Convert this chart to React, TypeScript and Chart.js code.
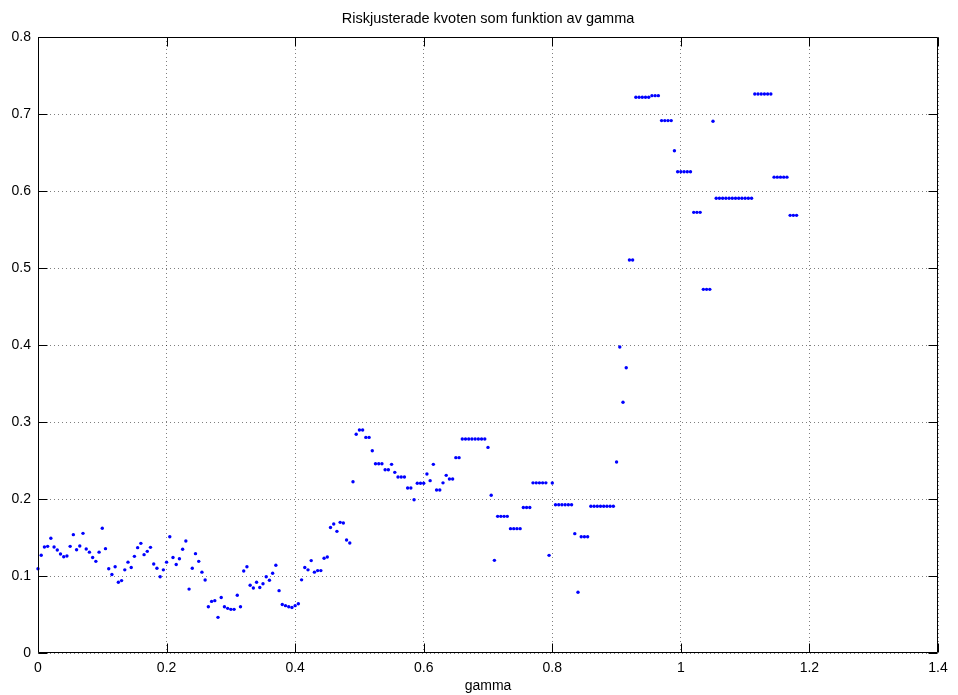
import React, { useEffect, useRef } from "react";
import { Chart, registerables } from "chart.js";

Chart.register(...registerables);

const titleText = "Riskjusterade kvoten som funktion av gamma";
const xAxisLabel = "gamma";

const xTicks = [0, 0.2, 0.4, 0.6, 0.8, 1, 1.2, 1.4];
const yTicks = [0, 0.1, 0.2, 0.3, 0.4, 0.5, 0.6, 0.7, 0.8];

const gamma = [
  0, 0.005, 0.01, 0.015, 0.02, 0.025, 0.03, 0.035, 0.04, 0.045,
  0.05, 0.055, 0.06, 0.065, 0.07, 0.075, 0.08, 0.085, 0.09, 0.095,
  0.1, 0.105, 0.11, 0.115, 0.12, 0.125, 0.13, 0.135, 0.14, 0.145,
  0.15, 0.155, 0.16, 0.165, 0.17, 0.175, 0.18, 0.185, 0.19, 0.195,
  0.2, 0.205, 0.21, 0.215, 0.22, 0.225, 0.23, 0.235, 0.24, 0.245,
  0.25, 0.255, 0.26, 0.265, 0.27, 0.275, 0.28, 0.285, 0.29, 0.295,
  0.3, 0.305, 0.31, 0.315, 0.32, 0.325, 0.33, 0.335, 0.34, 0.345,
  0.35, 0.355, 0.36, 0.365, 0.37, 0.375, 0.38, 0.385, 0.39, 0.395,
  0.4, 0.405, 0.41, 0.415, 0.42, 0.425, 0.43, 0.435, 0.44, 0.445,
  0.45, 0.455, 0.46, 0.465, 0.47, 0.475, 0.48, 0.485, 0.49, 0.495,
  0.5, 0.505, 0.51, 0.515, 0.52, 0.525, 0.53, 0.535, 0.54, 0.545,
  0.55, 0.555, 0.56, 0.565, 0.57, 0.575, 0.58, 0.585, 0.59, 0.595,
  0.6, 0.605, 0.61, 0.615, 0.62, 0.625, 0.63, 0.635, 0.64, 0.645,
  0.65, 0.655, 0.66, 0.665, 0.67, 0.675, 0.68, 0.685, 0.69, 0.695,
  0.7, 0.705, 0.71, 0.715, 0.72, 0.725, 0.73, 0.735, 0.74, 0.745,
  0.75, 0.755, 0.76, 0.765, 0.77, 0.775, 0.78, 0.785, 0.79, 0.795,
  0.8, 0.805, 0.81, 0.815, 0.82, 0.825, 0.83, 0.835, 0.84, 0.845,
  0.85, 0.855, 0.86, 0.865, 0.87, 0.875, 0.88, 0.885, 0.89, 0.895,
  0.9, 0.905, 0.91, 0.915, 0.92, 0.925, 0.93, 0.935, 0.94, 0.945,
  0.95, 0.955, 0.96, 0.965, 0.97, 0.975, 0.98, 0.985, 0.99, 0.995,
  1, 1.005, 1.01, 1.015, 1.02, 1.025, 1.03, 1.035, 1.04, 1.045,
  1.05, 1.055, 1.06, 1.065, 1.07, 1.075, 1.08, 1.085, 1.09, 1.095,
  1.1, 1.105, 1.11, 1.115, 1.12, 1.125, 1.13, 1.135, 1.14, 1.145,
  1.15, 1.155, 1.16, 1.165, 1.17, 1.175, 1.18,
];

const kvot = [
  0.1095, 0.127, 0.1377, 0.1385, 0.149, 0.1377, 0.1338, 0.1286, 0.125, 0.126,
  0.1385, 0.1537, 0.134, 0.139, 0.1554, 0.135, 0.131, 0.124, 0.119, 0.131,
  0.162, 0.1355, 0.1095, 0.102, 0.112, 0.0918, 0.094, 0.108, 0.118, 0.111,
  0.1255, 0.1368, 0.1424, 0.1277, 0.132, 0.1372, 0.1156, 0.11, 0.099, 0.108,
  0.118, 0.151, 0.124, 0.115, 0.1225, 0.1347, 0.1455, 0.083, 0.11, 0.129,
  0.119, 0.105, 0.0948, 0.06, 0.067, 0.068, 0.0463, 0.072, 0.06, 0.058,
  0.0567, 0.0567, 0.075, 0.06, 0.1065, 0.112, 0.088, 0.0845, 0.0918, 0.085,
  0.09, 0.099, 0.0944, 0.1035, 0.114, 0.081, 0.063, 0.0615, 0.06, 0.059,
  0.0615, 0.064, 0.095, 0.111, 0.108, 0.12, 0.105, 0.107, 0.107, 0.123,
  0.1247, 0.163, 0.1675, 0.158, 0.1697, 0.1688, 0.1468, 0.1428, 0.2225, 0.284,
  0.2896, 0.2896, 0.28, 0.28, 0.2627, 0.2458, 0.2458, 0.2458, 0.238, 0.238,
  0.245, 0.2346, 0.2286, 0.2286, 0.2286, 0.2143, 0.2143, 0.199, 0.2204, 0.2204,
  0.2204, 0.2325, 0.2238, 0.245, 0.2117, 0.2117, 0.221, 0.2307, 0.226, 0.226,
  0.2537, 0.2537, 0.278, 0.278, 0.278, 0.278, 0.278, 0.278, 0.278, 0.278,
  0.267, 0.2048, 0.1203, 0.1775, 0.1775, 0.1775, 0.1775, 0.1615, 0.1615, 0.1615,
  0.1615, 0.189, 0.189, 0.189, 0.221, 0.221, 0.221, 0.221, 0.221, 0.1268,
  0.2208, 0.1926, 0.1926, 0.1926, 0.1926, 0.1926, 0.1926, 0.155, 0.0788, 0.151,
  0.151, 0.151, 0.1905, 0.1905, 0.1905, 0.1905, 0.1905, 0.1905, 0.1905, 0.1905,
  0.248, 0.3974, 0.3256, 0.3705, 0.5104, 0.5104, 0.7217, 0.7217, 0.7217, 0.7217,
  0.7217, 0.7238, 0.7238, 0.7238, 0.6914, 0.6914, 0.6914, 0.6914, 0.6523, 0.625,
  0.625, 0.625, 0.625, 0.625, 0.5723, 0.5723, 0.5723, 0.4723, 0.4723, 0.4723,
  0.6905, 0.5905, 0.5905, 0.5905, 0.5905, 0.5905, 0.5905, 0.5905, 0.5905, 0.5905,
  0.5905, 0.5905, 0.5905, 0.726, 0.726, 0.726, 0.726, 0.726, 0.726, 0.618,
  0.618, 0.618, 0.618, 0.618, 0.5684, 0.5684, 0.5684,
];

const FONT = "'Liberation Sans', Arial, Helvetica, sans-serif";

const boxPlugin = {
  id: "matlabBox",
  afterDraw(chart: any) {
    const { ctx, chartArea: a, scales } = chart;
    const L = Math.round(a.left) + 0.5;
    const R = Math.round(a.right) - 0.5;
    const T = Math.round(a.top) + 0.5;
    const B = Math.round(a.bottom) - 0.5;
    const tl = 9;
    ctx.save();
    ctx.strokeStyle = "#000";
    ctx.lineWidth = 1;
    ctx.beginPath();
    ctx.rect(L, T, R - L, B - T);
    ctx.stroke();
    ctx.beginPath();
    for (const t of xTicks) {
      const px = Math.round(scales.x.getPixelForValue(t)) + 0.5;
      ctx.moveTo(px, B);
      ctx.lineTo(px, B - tl);
      ctx.moveTo(px, T);
      ctx.lineTo(px, T + tl);
    }
    for (const t of yTicks) {
      const py = Math.round(scales.y.getPixelForValue(t)) + 0.5;
      ctx.moveTo(L, py);
      ctx.lineTo(L + tl, py);
      ctx.moveTo(R, py);
      ctx.lineTo(R - tl, py);
    }
    ctx.stroke();
    ctx.restore();
  },
};

export default function App() {
  const ref = useRef<HTMLCanvasElement | null>(null);

  useEffect(() => {
    if (!ref.current) return;
    const points = gamma.map((g, i) => ({ x: g, y: kvot[i] }));
    const chart = new Chart(ref.current, {
      type: "scatter",
      data: {
        datasets: [
          {
            data: points,
            backgroundColor: "#0000ff",
            borderWidth: 0,
            pointRadius: 1.7,
            pointHoverRadius: 1.7,
            clip: false,
          },
        ],
      },
      options: {
        animation: false,
        responsive: false,
        devicePixelRatio: 1,
        layout: { padding: { left: 0, right: 20, top: 0, bottom: 0 } },
        plugins: {
          legend: { display: false },
          tooltip: { enabled: false },
          title: {
            display: true,
            text: titleText,
            fullSize: false,
            color: "#000",
            font: { family: FONT, size: 14.5, weight: "normal", lineHeight: 1.2 },
            padding: { top: 10.3, bottom: 9.3 },
          },
        },
        scales: {
          x: {
            type: "linear",
            min: 0,
            max: 1.4,
            afterBuildTicks: (s: any) => {
              s.ticks = xTicks.map((v) => ({ value: v }));
            },
            afterFit: (s: any) => {
              s.height = 42;
            },
            ticks: {
              color: "#000",
              font: { family: FONT, size: 14 },
              padding: 7,
              maxRotation: 0,
              autoSkip: false,
              callback: (v: any) => String(Math.round(Number(v) * 10) / 10),
            },
            grid: {
              color: "rgba(0,0,0,0.5)",
              drawTicks: false,
              lineWidth: 1,
            },
            border: { display: false, dash: [1, 3] },
            title: {
              display: true,
              text: xAxisLabel,
              color: "#000",
              font: { family: FONT, size: 14, lineHeight: 1.2 },
              padding: { top: 0, bottom: 0.6 },
            },
          },
          y: {
            type: "linear",
            min: 0,
            max: 0.8,
            afterBuildTicks: (s: any) => {
              s.ticks = yTicks.map((v) => ({ value: v }));
            },
            afterFit: (s: any) => {
              s.width = 38;
            },
            ticks: {
              color: "#000",
              font: { family: FONT, size: 14 },
              padding: 7,
              autoSkip: false,
              callback: (v: any) => String(Math.round(Number(v) * 10) / 10),
            },
            grid: {
              color: "rgba(0,0,0,0.5)",
              drawTicks: false,
              lineWidth: 1,
            },
            border: { display: false, dash: [1, 3] },
          },
        },
      },
      plugins: [boxPlugin],
    } as any);
    return () => chart.destroy();
  }, []);

  return (
    <div style={{ position: "fixed", left: 0, top: 0, width: 958, height: 695, background: "#fff" }}>
      <canvas ref={ref} width={958} height={695} style={{ display: "block" }} />
    </div>
  );
}
